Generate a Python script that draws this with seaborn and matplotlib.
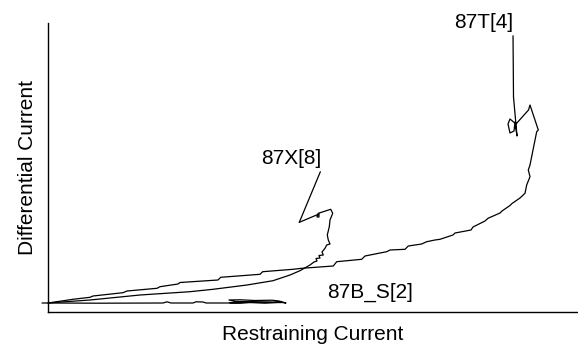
import matplotlib
matplotlib.use("Agg")
import matplotlib.pyplot as plt
import seaborn as sns
import pandas as pd

# Restraining current (x) / differential current (y), arbitrary units
t4_restr = [0, 2.5, 4.2, 4.5, 7.5, 7.9, 10.9, 11.2, 13.0, 13.2, 17.0, 17.27, 21.2, 21.47,
            24.5, 25.37, 28.53, 28.87, 31.37, 31.7, 33.87, 34.2, 35.7, 36.03, 37.37, 37.87,
            38.7, 39.2, 40.5, 40.7, 42.3, 42.5, 43.7, 44.0, 45.2, 45.4, 46.2, 46.4, 47.2, 47.7,
            47.87, 48.2, 48.03, 48.2, 48.5, 48.87, 49.03, 48.2, 48.05, 46.8, 46.2, 46.0, 46.2,
            46.6, 46.7, 46.9, 46.55]
t4_diff = [0, 0.37, 0.57, 0.7, 1.03, 1.2, 1.47, 1.63, 1.9, 2.05, 2.3, 2.57, 2.87, 3.13,
           3.37, 3.47, 3.7, 4.13, 4.37, 4.7, 5.13, 5.3, 5.37, 5.7, 5.9, 6.13,
           6.3, 6.37, 6.8, 7.0, 7.3, 7.6, 8.2, 8.47, 9.0, 9.2, 9.75, 9.95, 10.5, 10.97,
           11.8, 12.63, 13.3, 13.8, 15.3, 17.13, 17.3, 19.8, 19.3, 17.9, 18.4, 17.9, 17.0,
           17.2, 18.1, 16.7, 20.6]

x8_restr = [0, 4.2, 9.2, 14.2, 16.5, 19.9, 22.5, 24.2, 25.2, 26.2, 26.6, 26.9, 26.8, 27.2,
            27.1, 27.53, 27.4, 27.7, 27.87, 28.2, 28.03, 27.93, 28.13, 28.2, 28.47, 28.27,
            27.53, 27.03, 26.9, 27.1, 27.1, 25.13]
x8_diff = [0, 0.3, 0.8, 1.13, 1.37, 1.8, 2.23, 2.8, 3.23, 3.8, 4.1, 4.2, 4.45, 4.5,
           4.75, 4.8, 5.1, 5.47, 5.8, 5.9, 6.3, 6.8, 7.63, 8.3, 8.97, 9.37,
           9.13, 8.97, 8.6, 8.6, 8.9, 8.07]

b2_restr = [-0.6, 0, 5.2, 11.5, 11.9, 12.3, 14.5, 14.8, 15.5, 15.8, 19.2, 20.2, 21.7, 23.2,
            23.8, 23.1, 22.4, 20.7, 19.2, 18.1, 18.7, 20.7, 22.2, 23.3, 18.2]
b2_diff = [0, 0, -0.02, 0, 0.12, 0, 0, 0.12, 0.1, 0, 0, 0.07, 0, 0.07,
           0, 0.2, 0.28, 0.25, 0.32, 0.3, 0.15, 0.12, 0.1, 0.05, 0.03]

labels = ["87T[4]", "87X[8]", "87B_S[2]"]

sns.set_theme(style="white")
plt.rcParams["font.family"] = ["Liberation Sans", "DejaVu Sans"]
plt.rcParams["text.color"] = "black"
plt.rcParams["axes.labelcolor"] = "black"

fig = plt.figure(figsize=(5.78, 3.44), dpi=100)
ax = fig.add_axes([48 / 578, 32 / 344, 530 / 578, 289 / 344])

for xs, ys in [(t4_restr, t4_diff), (x8_restr, x8_diff), (b2_restr, b2_diff)]:
    df = pd.DataFrame({"r": xs, "d": ys})
    sns.lineplot(data=df, x="r", y="d", sort=False, estimator=None, color="black",
                 lw=0.9, ax=ax, clip_on=False)

ax.set_xlim(0, 53.0)
ax.set_ylim(-0.9, 28.0)

lead = dict(arrowstyle="-", color="black", lw=0.9, relpos=(1.0, 0.0), shrinkA=0, shrinkB=0)
ax.annotate(labels[0], xy=(t4_restr[-1], t4_diff[-1]), xytext=(46.5, 27.05),
            ha="right", va="bottom", fontsize=15, color="black", arrowprops=lead,
            annotation_clip=False)
ax.annotate(labels[1], xy=(x8_restr[-1], x8_diff[-1]), xytext=(27.37, 13.45),
            ha="right", va="bottom", fontsize=15, color="black", arrowprops=lead,
            annotation_clip=False)
ax.text(27.9, 0.05, labels[2], ha="left", va="bottom", fontsize=15, color="black")

ax.set_xlabel("Restraining Current", fontsize=15, labelpad=9, color="black")
ax.set_ylabel("Differential Current", fontsize=15, labelpad=8, color="black")
ax.set_xticks([])
ax.set_yticks([])
for s in ["top", "right"]:
    ax.spines[s].set_visible(False)
for s in ["left", "bottom"]:
    ax.spines[s].set_color("black")
    ax.spines[s].set_linewidth(1.0)

fig.savefig("out.png", dpi=100)
